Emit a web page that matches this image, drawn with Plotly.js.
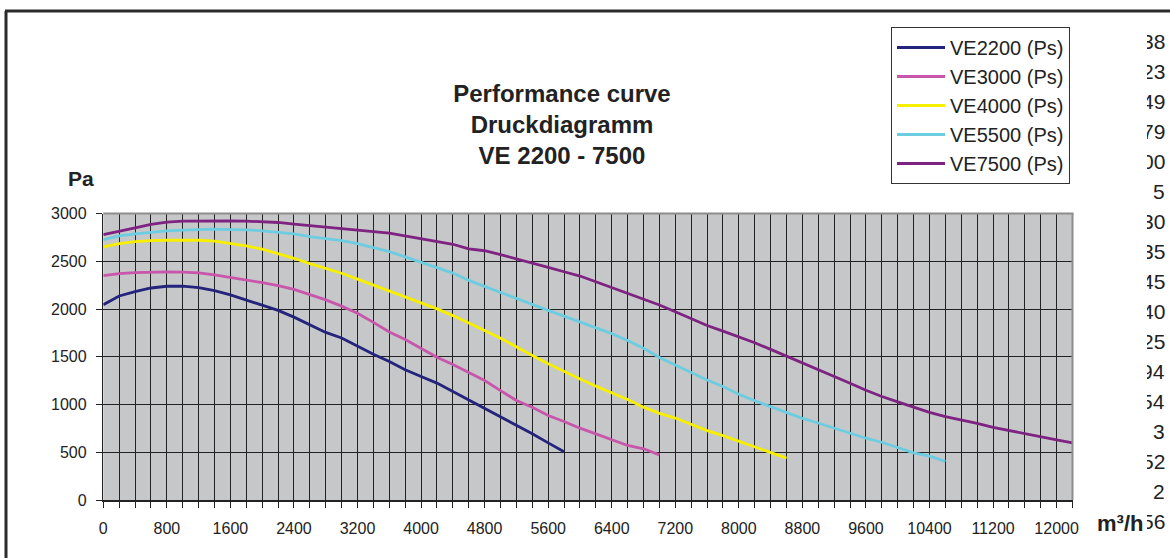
<!DOCTYPE html>
<html>
<head>
<meta charset="utf-8">
<script src="https://cdn.plot.ly/plotly-3.0.1.min.js"></script>
<style>
  html, body { margin: 0; padding: 0; background: #ffffff; }
  #chart { width: 1170px; height: 558px; }
</style>
</head>
<body>
<div id="chart"></div>
<script>
// ---- data ----
const flow = [0,200,400,600,800,1000,1200,1400,1600,1800,2000,2200,2400,2600,2800,3000,3200,3400,3600,3800,
  4000,4200,4400,4600,4800,5000,5200,5400,5600,5800,6000,6200,6400,6600,6800,7000,7200,7400,7600,7800,
  8000,8200,8400,8600,8800,9000,9200,9400,9600,9800,10000,10200,10400,10600,10800,11000,11200,11400,11600,11800,
  12000,12200];

const seriesNames = ["VE2200 (Ps)", "VE3000 (Ps)", "VE4000 (Ps)", "VE5500 (Ps)", "VE7500 (Ps)"];

const ve2200 = [2045,2136,2182,2220,2238,2240,2224,2192,2147,2091,2040,1986,1915,1836,1755,1697,1611,1527,1450,1363,
  1293,1224,1136,1049,962,874,780,693,598,505];
const ve3000 = [2350,2371,2381,2388,2388,2386,2378,2357,2332,2308,2276,2245,2206,2150,2095,2030,1955,1860,1760,1680,
  1585,1495,1418,1338,1251,1146,1042,972,885,822,752,693,633,571,536,473];
const ve4000 = [2650,2685,2706,2717,2720,2720,2720,2710,2685,2661,2626,2580,2531,2475,2428,2374,2313,2252,2192,2128,
  2062,2001,1931,1855,1774,1694,1600,1513,1426,1345,1268,1192,1122,1052,972,907,858,795,727,674,
  615,560,501,439];
const ve5500 = [2725,2766,2787,2804,2818,2825,2832,2836,2832,2829,2818,2804,2787,2759,2738,2717,2685,2645,2600,2545,
  2490,2435,2376,2300,2236,2173,2107,2051,1985,1925,1866,1806,1742,1670,1589,1493,1412,1334,1257,1188,
  1108,1039,980,917,855,806,754,702,647,605,553,494,459,404];
const ve7500 = [2780,2818,2850,2885,2909,2920,2923,2923,2923,2920,2916,2906,2888,2874,2860,2843,2829,2811,2794,2765,
  2731,2703,2678,2630,2610,2570,2527,2485,2435,2390,2345,2285,2226,2166,2104,2042,1972,1900,1827,1768,
  1709,1646,1577,1507,1438,1368,1299,1223,1150,1084,1028,969,917,872,838,803,761,727,692,657,
  629,598];

const xTickVals = [0,800,1600,2400,3200,4000,4800,5600,6400,7200,8000,8800,9600,10400,11200,12000];
const xTickText = ["0","800","1600","2400","3200","4000","4800","5600","6400","7200","8000","8800","9600","10400","11200","12000"];
const yTickVals = [0,500,1000,1500,2000,2500,3000];
const yTickText = ["0","500","1000","1500","2000","2500","3000"];

// clipped labels of a neighbouring table at the right edge of the picture
const sideLabels = ["38","23","49","79","00","5","30","35","45","40","25","94","54","3","52","2","56"];
const sideRows   = [41.7,71.7,101.6,131.6,161.5,191.5,221.5,251.4,281.4,311.3,341.3,371.3,401.2,431.2,461.1,491.1,521.1];

const titleText = "Performance curve<br>Druckdiagramm<br>VE 2200 - 7500";
const yTitle = "Pa";
const xTitle = "m³/h";

// ---- styling ----
const colors = ["#24247c", "#c856aa", "#f6ef00", "#6ccde1", "#7e2381"];
const FONT = "Liberation Sans, Arial, sans-serif";
const W = 1170, H = 558;
const px = v => v / W;          // pixel -> paper x
const py = v => 1 - v / H;      // pixel -> paper y

const allSeries = [ve2200, ve3000, ve4000, ve5500, ve7500];
const traces = allSeries.map((vals, i) => ({
  type: "scatter",
  mode: "lines",
  name: seriesNames[i],
  x: flow.slice(0, vals.length),
  y: vals,
  line: { color: colors[i], width: 2.8, shape: "linear" },
  hoverinfo: "x+y+name"
}));

const xL = 103.3, xR = 1072.5, yT = 213.5, yB = 500;

const sideAnnotations = sideLabels.map((t, i) => ({
  text: t, xref: "paper", yref: "paper",
  x: px(1167), y: py(sideRows[i]), xanchor: "right", yanchor: "middle",
  showarrow: false, font: { family: FONT, size: 21, color: "#222" }
}));

// white strip: the neighbouring table is cut off at this edge in the picture
const clipMask = {
  text: ".", xref: "paper", yref: "paper",
  x: px(1147), y: py(282), xanchor: "right", yanchor: "middle",
  width: 40, height: 520, bgcolor: "#ffffff", borderpad: 0, borderwidth: 0,
  showarrow: false, font: { family: FONT, size: 10, color: "#ffffff" }
};

const layout = {
  width: W, height: H,
  margin: { l: 0, r: 0, t: 0, b: 0 },
  paper_bgcolor: "#ffffff",
  plot_bgcolor: "rgba(0,0,0,0)",
  font: { family: FONT, color: "#222" },
  showlegend: true,
  title: {
    text: titleText,
    x: px(562), xanchor: "center",
    y: py(102), yanchor: "top",
    font: { family: FONT, size: 24, color: "#222", weight: "bold" }
  },
  legend: {
    x: px(891), xanchor: "left",
    y: py(27), yanchor: "top",
    bgcolor: "#ffffff",
    bordercolor: "#333",
    borderwidth: 1,
    font: { family: FONT, size: 20, color: "#222" },
    itemwidth: 48,
    tracegroupgap: 0
  },
  xaxis: {
    domain: [px(xL), px(xR)],
    range: [0, 12200],
    tickmode: "array",
    tickvals: xTickVals,
    ticktext: xTickText,
    ticks: "outside", ticklen: 6, tickcolor: "#222", tickwidth: 1,
    ticklabelstandoff: 7,
    tickfont: { family: FONT, size: 16, color: "#222" },
    showgrid: true, gridcolor: "#222", gridwidth: 1,
    minor: { dtick: 200, tick0: 0, ticks: "outside", ticklen: 6, tickcolor: "#222", showgrid: true, gridcolor: "#222", gridwidth: 1 },
    showline: true, linecolor: "#222", linewidth: 2,
    zeroline: false, fixedrange: true
  },
  yaxis: {
    domain: [py(yB), py(yT)],
    range: [0, 3000],
    tickmode: "array",
    tickvals: yTickVals,
    ticktext: yTickText,
    ticks: "outside", ticklen: 6, tickcolor: "#222", tickwidth: 1,
    ticklabelstandoff: 6,
    tickfont: { family: FONT, size: 16, color: "#222" },
    showgrid: true, gridcolor: "#222", gridwidth: 1,
    showline: true, linecolor: "#222", linewidth: 1.5,
    zeroline: false, fixedrange: true
  },
  shapes: [
    // plot area fill
    { type: "rect", xref: "x domain", yref: "y domain", x0: 0, x1: 1, y0: 0, y1: 1,
      fillcolor: "#c6c7c9", line: { width: 0 }, layer: "below" },
    // plot area border (top + right, grey)
    { type: "line", xref: "paper", yref: "paper", x0: px(xL), x1: px(xR + 1), y0: py(yT), y1: py(yT),
      line: { color: "#8d8d8d", width: 2 }, layer: "above" },
    { type: "line", xref: "paper", yref: "paper", x0: px(xR), x1: px(xR), y0: py(yT), y1: py(yB),
      line: { color: "#8d8d8d", width: 2 }, layer: "above" },
    // outer chart frame (top + left visible)
    { type: "line", xref: "paper", yref: "paper", x0: px(5), x1: 1, y0: py(11), y1: py(11),
      line: { color: "#2b2b2b", width: 3 }, layer: "above" },
    { type: "line", xref: "paper", yref: "paper", x0: px(6), x1: px(6), y0: py(11), y1: 0,
      line: { color: "#2b2b2b", width: 3 }, layer: "above" }
  ],
  annotations: sideAnnotations.concat([clipMask,
    { text: yTitle, xref: "paper", yref: "paper", x: px(81), y: py(178), xanchor: "center", yanchor: "middle",
      showarrow: false, font: { family: FONT, size: 21, color: "#222", weight: "bold" } },
    { text: xTitle, xref: "paper", yref: "paper", x: px(1120), y: py(523), xanchor: "center", yanchor: "middle",
      showarrow: false, font: { family: FONT, size: 22, color: "#222", weight: "bold" } }
  ])
};

Plotly.newPlot("chart", traces, layout, { displayModeBar: false, staticPlot: true });
</script>
</body>
</html>
